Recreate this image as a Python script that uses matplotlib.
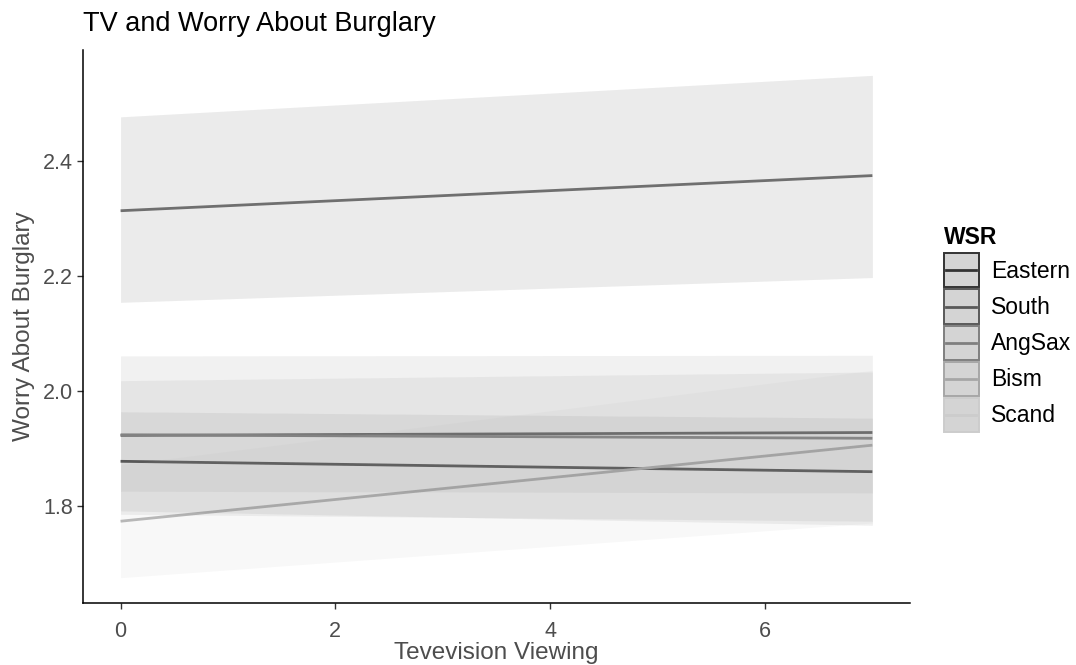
import matplotlib
matplotlib.use("Agg")
import matplotlib.pyplot as plt
from matplotlib.patches import Patch, Rectangle
from matplotlib.lines import Line2D
from matplotlib.legend_handler import HandlerBase

plt.rcParams['font.family'] = ['Liberation Sans', 'DejaVu Sans']

# TV viewing range (predictions are straight lines, so the two ends are enough)
tv = [0, 7]
groups = ['Eastern', 'South', 'AngSax', 'Bism', 'Scand']

# predicted worry at tv = 0 and tv = 7
fit_start = [1.878, 1.923, 2.313, 1.924, 1.774]
fit_end = [1.860, 1.928, 2.374, 1.918, 1.906]

# confidence band edges at tv = 0 and tv = 7
low_start = [1.792, 1.826, 2.154, 1.786, 1.676]
low_end = [1.767, 1.823, 2.197, 1.774, 1.771]
high_start = [1.964, 2.018, 2.476, 2.061, 1.872]
high_end = [1.953, 2.033, 2.548, 2.062, 2.036]

key_greys = ['#333333', '#595959', '#7f7f7f', '#a6a6a6', '#cccccc']
line_greys = ['#555555', '#6a6a6a', '#777777', '#8c8c8c', '#b8b8b8']
fill_greys = ['#595959', '#737373', '#262626', '#666666', '#b3b3b3']


class KeyHandler(HandlerBase):
    # grey box with a coloured border and a centred line, like the ggplot key
    def create_artists(self, legend, orig_handle, xdescent, ydescent, width, height,
                       fontsize, trans):
        col = orig_handle.get_edgecolor()
        box = Rectangle((-xdescent, -ydescent), width, height, facecolor='#d4d4d4',
                        edgecolor=col, lw=1.4, transform=trans)
        yc = -ydescent + height / 2
        ln = Line2D([-xdescent + 0.07 * width, -xdescent + 0.93 * width], [yc, yc],
                    color=col, lw=2.0, transform=trans)
        return [box, ln]


fig = plt.figure(figsize=(10.76, 6.65), dpi=100)
ax = fig.add_axes([0.0771, 0.0932, 0.7686, 0.8316])

for i, g in enumerate(groups):
    ax.plot(tv, [fit_start[i], fit_end[i]], color=line_greys[i], lw=2.0, zorder=2,
            solid_capstyle='butt')
    ax.fill_between(tv, [low_start[i], low_end[i]], [high_start[i], high_end[i]],
                    color=fill_greys[i], alpha=0.09, lw=0, zorder=3)

ax.set_xlim(-0.35, 7.35)
ax.set_ylim(1.632, 2.592)
ax.set_xticks([0, 2, 4, 6])
ax.set_yticks([1.8, 2.0, 2.2, 2.4])
ax.set_yticklabels(['1.8', '2.0', '2.2', '2.4'])

for side in ['top', 'right']:
    ax.spines[side].set_visible(False)
for side in ['left', 'bottom']:
    ax.spines[side].set_linewidth(1.1)
    ax.spines[side].set_color('black')
ax.tick_params(axis='both', length=4, width=1.0, color='#333333',
               labelsize=15.5, labelcolor='#4d4d4d', pad=3)
ax.tick_params(axis='x', pad=9)

ax.set_xlabel('Tevevision Viewing', fontsize=17.5, color='#4d4d4d', labelpad=0)
ax.set_ylabel('Worry About Burglary', fontsize=17.5, color='#4d4d4d', labelpad=6)
fig.text(0.0771, 0.964, 'TV and Worry About Burglary', fontsize=19.5,
         ha='left', va='center', color='black')

handles = [Patch(edgecolor=c) for c in key_greys]

leg = fig.legend(handles, groups, handler_map={Patch: KeyHandler()},
                 loc='center left', bbox_to_anchor=(0.862, 0.5055), frameon=False,
                 fontsize=16.5, title='WSR', title_fontproperties={'weight': 'bold', 'size': 16.5},
                 handlelength=1.53, handleheight=1.91, labelspacing=0.09, handletextpad=0.55,
                 borderpad=0.2)
leg._legend_box.align = 'left'
leg._legend_box.sep = 3.3

fig.savefig('out.png', dpi=100)
